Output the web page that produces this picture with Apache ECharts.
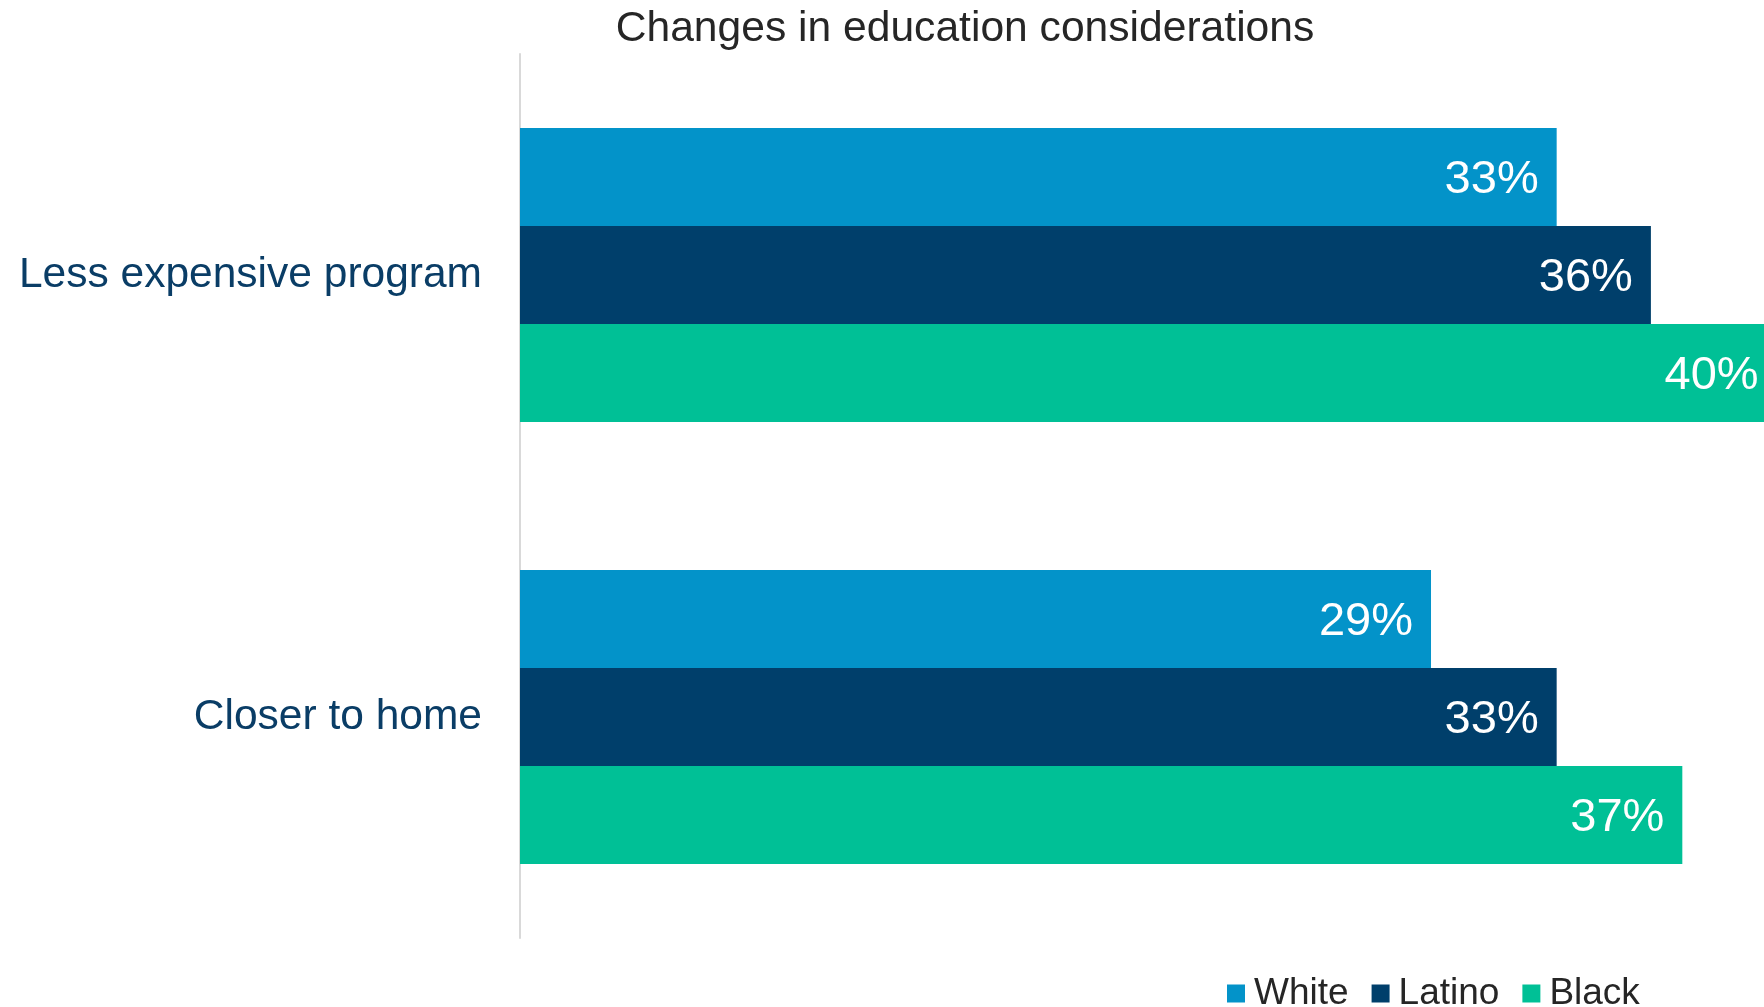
<!DOCTYPE html>
<html>
<head>
<meta charset="utf-8">
<script src="https://cdn.jsdelivr.net/npm/echarts@6/dist/echarts.min.js"></script>
<style>
  html, body { margin: 0; padding: 0; background: #ffffff; }
  #chart { width: 1764px; height: 1007px; }
</style>
</head>
<body>
<div id="chart"></div>
<script>
// Categories (top to bottom) and percentage values per group
const categories = ['Less expensive program', 'Closer to home'];
const whiteValues = [33, 29];
const latinoValues = [36, 33];
const blackValues = [40, 37];
const seriesNames = ['White', 'Latino', 'Black'];
const seriesColors = ['#0393c9', '#003f6b', '#00c096'];
// Value axis ends just short of the largest bar, so that bar runs off the right edge
const xMax = 39.6;

const FONT = '"Liberation Sans", Arial, sans-serif';

const chart = echarts.init(document.getElementById('chart'), null, { renderer: 'canvas' });

function barSeries(name, data, color) {
  return {
    name: name,
    type: 'bar',
    data: data,
    clip: false,
    barGap: '0%',
    barCategoryGap: '33.5%',
    itemStyle: { color: color },
    label: {
      show: true,
      position: 'insideRight',
      distance: 18,
      offset: [0, 3],
      formatter: '{c}%',
      color: '#ffffff',
      fontFamily: FONT,
      fontSize: 47
    },
    emphasis: { disabled: true },
    animation: false
  };
}

chart.setOption({
  backgroundColor: '#ffffff',
  animation: false,
  title: {
    text: 'Changes in education considerations',
    left: 960,
    textAlign: 'center',
    top: 3,
    textStyle: {
      fontFamily: FONT,
      fontSize: 42.6,
      fontWeight: 'normal',
      color: '#262626'
    }
  },
  legend: {
    data: seriesNames,
    left: 1227,
    top: 975,
    padding: 0,
    itemWidth: 18,
    itemHeight: 18,
    itemGap: 23,
    icon: 'rect',
    textStyle: {
      fontFamily: FONT,
      fontSize: 37,
      color: '#262626',
      padding: [0, 0, 0, 4]
    },
    selectedMode: false
  },
  grid: {
    left: 520,
    right: 0,
    top: 54,
    bottom: 1007 - 938
  },
  xAxis: {
    type: 'value',
    min: 0,
    max: xMax,
    show: false
  },
  yAxis: {
    type: 'category',
    data: categories,
    inverse: true,
    axisLine: { show: true, lineStyle: { color: '#d9d9d9', width: 2 } },
    axisTick: { show: false },
    axisLabel: {
      margin: 38,
      fontFamily: FONT,
      fontSize: 42.5,
      color: '#0a3d66',
      padding: [5, 0, 0, 0]
    }
  },
  series: [
    barSeries(seriesNames[0], whiteValues, seriesColors[0]),
    barSeries(seriesNames[1], latinoValues, seriesColors[1]),
    barSeries(seriesNames[2], blackValues, seriesColors[2])
  ]
});
</script>
</body>
</html>
